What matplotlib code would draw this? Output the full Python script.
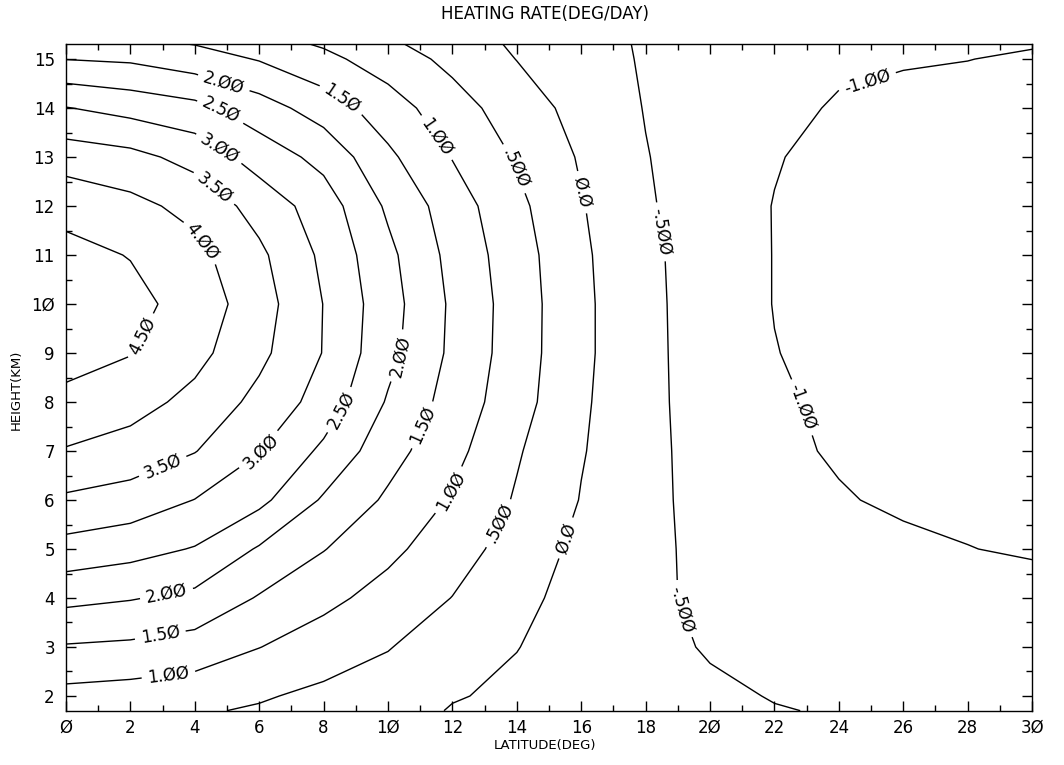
import numpy as np
import matplotlib
matplotlib.use("Agg")
import matplotlib.pyplot as plt
from matplotlib.ticker import MultipleLocator, FuncFormatter

# grid the heating rates were read on
latitude = [0, 2, 4, 6, 8, 10, 12, 14, 16, 18, 20, 22, 24, 26, 28, 30]
height = [1.7, 2, 3, 4, 5, 6, 7, 8, 9, 10, 11, 12, 13, 14, 15, 15.3]

# heating rate (deg/day) along each height, latitude 0 -> 30
rate_1_7km = [0.67, 0.62, 0.55, 0.45, 0.28, 0.20, -0.03, -0.12, -0.22, -0.31, -0.40, -0.48, -0.53, -0.56, -0.58, -0.60]
rate_2km = [0.85, 0.79, 0.71, 0.55, 0.39, 0.30, 0.03, -0.08, -0.20, -0.31, -0.42, -0.52, -0.57, -0.60, -0.62, -0.64]
rate_3km = [1.46, 1.41, 1.29, 1.01, 0.76, 0.52, 0.27, 0.01, -0.17, -0.36, -0.54, -0.60, -0.65, -0.68, -0.70, -0.72]
rate_4km = [2.13, 2.03, 1.88, 1.46, 1.13, 0.82, 0.49, 0.12, -0.16, -0.40, -0.60, -0.68, -0.74, -0.78, -0.80, -0.82]
rate_5km = [2.82, 2.68, 2.47, 1.95, 1.52, 1.12, 0.72, 0.29, -0.12, -0.41, -0.60, -0.72, -0.82, -0.92, -0.99, -1.05]
rate_6km = [3.42, 3.29, 2.99, 2.63, 1.94, 1.42, 0.95, 0.45, -0.02, -0.32, -0.74, -0.88, -0.97, -1.06, -1.10, -1.12]
rate_7km = [3.96, 3.80, 3.52, 3.02, 2.40, 1.69, 1.15, 0.55, 0.03, -0.33, -0.75, -0.92, -1.04, -1.12, -1.16, -1.18]
rate_8km = [4.42, 4.19, 3.86, 3.36, 2.80, 1.95, 1.30, 0.70, 0.07, -0.36, -0.74, -0.95, -1.07, -1.15, -1.19, -1.20]
rate_9km = [4.62, 4.52, 4.15, 3.62, 2.98, 2.15, 1.40, 0.75, 0.10, -0.36, -0.76, -0.99, -1.10, -1.17, -1.20, -1.22]
rate_10km = [4.72, 4.65, 4.30, 3.72, 2.99, 2.20, 1.42, 0.76, 0.10, -0.36, -0.78, -1.01, -1.12, -1.18, -1.21, -1.22]
rate_11km = [4.65, 4.48, 4.15, 3.60, 2.90, 2.12, 1.35, 0.72, 0.08, -0.38, -0.78, -1.01, -1.12, -1.18, -1.21, -1.22]
rate_12km = [4.34, 4.14, 3.85, 3.31, 2.75, 1.92, 1.25, 0.62, 0.03, -0.43, -0.82, -1.01, -1.12, -1.18, -1.20, -1.21]
rate_13km = [3.78, 3.65, 3.33, 2.78, 2.35, 1.60, 0.98, 0.45, -0.05, -0.48, -0.75, -0.98, -1.10, -1.16, -1.18, -1.19]
rate_14km = [3.02, 2.83, 2.65, 2.22, 1.77, 1.23, 0.71, 0.25, -0.17, -0.52, -0.72, -0.89, -1.04, -1.10, -1.12, -1.12]
rate_15km = [1.99, 1.93, 1.72, 1.47, 1.13, 0.76, 0.37, -0.01, -0.27, -0.55, -0.66, -0.80, -0.93, -0.97, -0.995, -1.04]
rate_15_3km = [1.70, 1.62, 1.49, 1.20, 0.95, 0.60, 0.22, -0.06, -0.29, -0.56, -0.68, -0.76, -0.85, -0.90, -0.95, -0.98]

levels = [-1.0, -0.5, 0.0, 0.5, 1.0, 1.5, 2.0, 2.5, 3.0, 3.5, 4.0, 4.5]

# where the contour labels sit (lat, km)
label_spots = [
    (2.3, 9.36), (4.21, 11.27), (4.57, 12.34), (4.73, 13.15), (4.83, 13.97),
    (4.88, 14.47), (8.41, 14.03), (11.3, 13.3), (13.37, 12.61), (16.01, 12.28),
    (18.45, 11.47), (24.87, 14.57), (10.27, 8.96), (8.41, 7.88), (6.02, 7.0),
    (3.02, 6.66), (11.04, 7.54), (11.93, 6.19), (13.27, 5.58), (15.45, 5.24),
    (19.07, 3.76), (22.8, 7.88), (3.13, 4.06), (2.92, 3.28), (3.18, 2.44),
]


def slashed(v):
    # old plotter style: slashed zeros, no leading zero below 1
    if v == 0:
        s = "0.0"
    elif abs(v) < 1:
        s = ("-" if v < 0 else "") + ("%.3f" % abs(v))[1:]
    else:
        s = "%.2f" % v
    return s.replace("0", "Ø")


rate = np.array([rate_1_7km, rate_2km, rate_3km, rate_4km, rate_5km, rate_6km,
                 rate_7km, rate_8km, rate_9km, rate_10km, rate_11km, rate_12km,
                 rate_13km, rate_14km, rate_15km, rate_15_3km])

plt.rcParams['font.family'] = ['DejaVu Sans']
plt.rcParams['contour.negative_linestyle'] = 'solid'

fig = plt.figure(figsize=(10.64, 7.65), dpi=100)
ax = fig.add_axes([0.062, 0.071, 0.908, 0.871])

cs = ax.contour(latitude, height, rate, levels=levels, colors='black',
                linewidths=1.0, linestyles='solid')
ax.clabel(cs, fmt=slashed, manual=label_spots, inline=True, inline_spacing=6, fontsize=12)

ax.set_xlim(0, 30)
ax.set_ylim(1.7, 15.3)
ax.xaxis.set_major_locator(MultipleLocator(2))
ax.xaxis.set_minor_locator(MultipleLocator(1))
ax.yaxis.set_major_locator(MultipleLocator(1))
ax.yaxis.set_minor_locator(MultipleLocator(0.5))
tick_fmt = FuncFormatter(lambda v, _: ("%g" % v).replace("0", "Ø"))
ax.xaxis.set_major_formatter(tick_fmt)
ax.yaxis.set_major_formatter(tick_fmt)
ax.tick_params(which='both', direction='in', top=True, right=True, width=1.0, labelsize=12)
ax.tick_params(which='major', length=7, pad=6)
ax.tick_params(which='minor', length=4)
ax.tick_params(axis='y', which='major', pad=8)
for sp in ax.spines.values():
    sp.set_linewidth(1.0)

fig.text(0.512, 0.982, "HEATING RATE(DEG/DAY)", ha='center', va='center', fontsize=12)
fig.text(0.512, 0.026, "LATITUDE(DEG)", ha='center', va='center', fontsize=9.5)
fig.text(0.015, 0.49, "HEIGHT(KM)", ha='center', va='center', rotation=90, fontsize=9.5)

fig.savefig("out.png", dpi=100)
